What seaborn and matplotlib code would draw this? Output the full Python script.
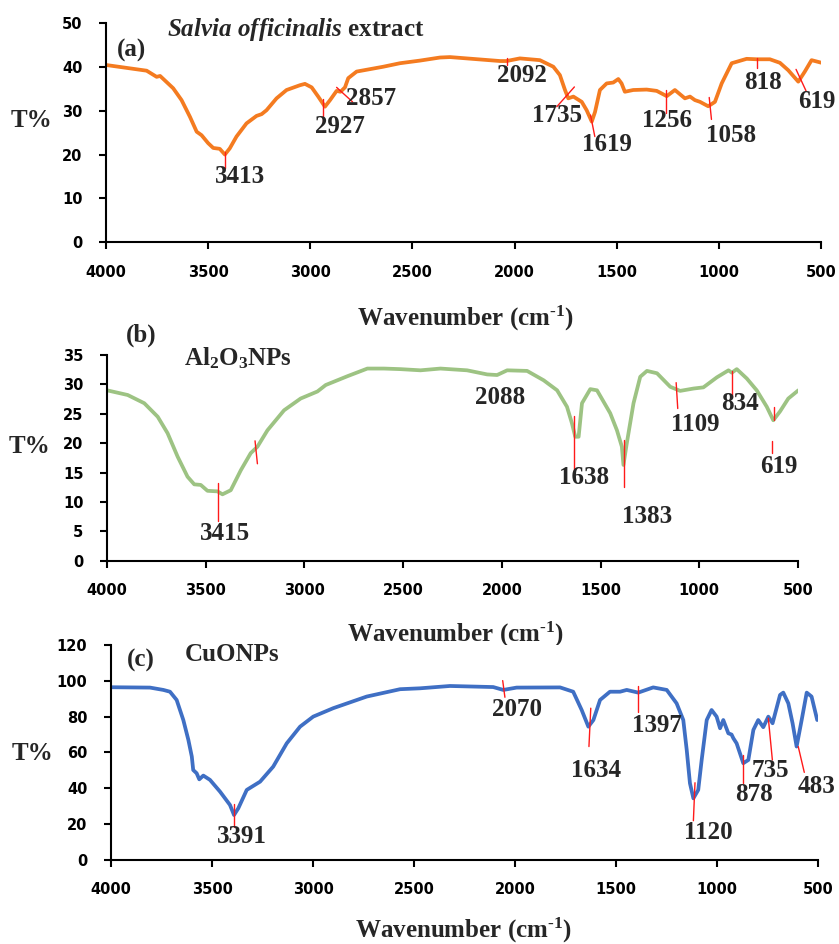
import numpy as np
import pandas as pd
import seaborn as sns
import matplotlib.pyplot as plt

# ---- (a) Salvia officinalis extract ----
a_wn = [4000, 3801, 3752, 3735, 3671, 3630, 3589, 3556, 3532, 3500, 3475, 3443, 3418, 3394, 3361,
        3312, 3263, 3238, 3214, 3165, 3116, 3050, 3026, 2993, 2961, 2928, 2903, 2871, 2852, 2830,
        2814, 2773, 2643, 2561, 2463, 2365, 2316, 2071, 2039, 1974, 1876, 1810, 1778, 1753, 1737,
        1712, 1671, 1647, 1622, 1606, 1582, 1549, 1517, 1492, 1476, 1460, 1419, 1353, 1304, 1255,
        1215, 1166, 1141, 1117, 1092, 1052, 1019, 986, 937, 864, 815, 750, 701, 660, 611,
        579, 546, 497]
a_t = [40.4, 39.1, 37.7, 37.9, 35.1, 32.4, 28.6, 25.2, 24.4, 22.6, 21.5, 21.3, 20.0, 21.4, 24.1,
       27.1, 28.8, 29.2, 30.1, 32.8, 34.7, 35.8, 36.1, 35.3, 33.2, 30.9, 32.4, 34.5, 34.3, 35.3,
       37.4, 38.9, 40.0, 40.8, 41.4, 42.1, 42.2, 41.3, 41.3, 41.9, 41.5, 40.0, 38.1, 34.7, 32.8,
       33.2, 32.0, 30.1, 27.5, 29.7, 34.7, 36.2, 36.4, 37.2, 36.2, 34.3, 34.7, 34.8, 34.5, 33.3,
       34.7, 32.8, 33.2, 32.4, 32.0, 31.0, 32.0, 36.2, 40.8, 41.8, 41.7, 41.7, 40.9, 39.2, 36.6,
       38.9, 41.5, 40.9]
a_labels = ["3413", "2927", "2857", "2092", "1735", "1619", "1256", "1058", "818", "619"]
a_lab_x = [3344, 2855, 2700, 1966, 1791, 1549, 1255, 942, 783, 521]
a_lab_y = [15.1, 26.3, 32.8, 37.9, 29.0, 22.2, 27.7, 24.4, 36.4, 32.0]
a_mk_x0 = [3418, 2937, 2871, 2036, 1707, 1628, 1257, 1047, 812, 622]
a_mk_y0 = [20.6, 32.6, 35.3, 42.1, 35.4, 29.0, 34.8, 33.0, 42.1, 39.4]
a_mk_x1 = [3418, 2937, 2793, 2036, 1793, 1607, 1257, 1036, 812, 573]
a_mk_y1 = [17.0, 27.1, 32.0, 40.5, 30.9, 24.1, 29.5, 28.0, 39.6, 34.5]

# ---- (b) Al2O3 NPs ----
b_wn = [4000, 3895, 3811, 3743, 3693, 3642, 3592, 3558, 3525, 3491, 3440, 3415, 3373, 3322, 3272,
        3238, 3187, 3103, 3019, 2934, 2892, 2782, 2681, 2597, 2513, 2412, 2311, 2176, 2074, 2024,
        1973, 1872, 1788, 1720, 1670, 1645, 1628, 1611, 1594, 1552, 1518, 1451, 1417, 1392, 1384,
        1367, 1333, 1299, 1265, 1214, 1147, 1097, 1029, 979, 911, 852, 835, 810, 759, 709,
        658, 625, 591, 549, 498]
b_t = [29.0, 28.2, 26.8, 24.5, 21.7, 17.7, 14.3, 13.0, 12.9, 11.9, 11.8, 11.3, 12.0, 15.4, 18.3,
       19.4, 22.2, 25.6, 27.6, 28.8, 29.9, 31.4, 32.7, 32.7, 32.6, 32.4, 32.7, 32.4, 31.7, 31.6,
       32.4, 32.3, 30.7, 29.0, 26.2, 23.4, 21.1, 21.1, 26.8, 29.2, 29.0, 25.1, 22.2, 19.4, 16.3,
       20.0, 26.8, 31.3, 32.3, 31.9, 29.6, 28.9, 29.3, 29.5, 31.2, 32.4, 32.0, 32.6, 31.0, 29.0,
       26.2, 23.9, 25.4, 27.6, 29.0]
b_labels = ["3415", "2088", "1638", "1383", "1109", "834", "619"]
b_lab_x = [3403, 2011, 1582, 1265, 1021, 793, 595]
b_lab_y = [4.7, 27.8, 14.2, 7.6, 23.1, 26.8, 16.1]
b_mk_x0 = [3440, 3250, 1633, 1380, 1117, 835, 621, 630]
b_mk_y0 = [13.3, 20.4, 24.6, 20.5, 30.3, 32.2, 26.1, 20.4]
b_mk_x1 = [3440, 3238, 1633, 1380, 1109, 835, 621, 630]
b_mk_y1 = [6.8, 16.5, 15.1, 12.5, 25.9, 27.9, 23.9, 18.4]

# ---- (c) CuO NPs ----
c_wn = [4000, 3807, 3741, 3708, 3675, 3642, 3617, 3600, 3593, 3576, 3563, 3543, 3510, 3460, 3411,
        3391, 3370, 3328, 3262, 3197, 3130, 3064, 2999, 2900, 2734, 2569, 2470, 2322, 2108, 2058,
        1992, 1777, 1712, 1670, 1637, 1612, 1579, 1530, 1480, 1447, 1390, 1316, 1249, 1200, 1167,
        1150, 1134, 1117, 1093, 1076, 1051, 1027, 1002, 985, 969, 944, 928, 919, 903, 870,
        845, 820, 796, 771, 746, 725, 688, 672, 647, 626, 606, 581, 556, 532, 504]
c_t = [96.4, 96.2, 94.9, 93.9, 89.3, 78.1, 67.0, 57.7, 50.2, 48.4, 45.0, 47.1, 44.7, 38.1, 30.7,
       25.1, 28.8, 39.1, 43.7, 52.1, 65.1, 74.4, 80.0, 84.7, 91.2, 95.3, 95.8, 97.1, 96.5, 94.9,
       96.2, 96.3, 93.9, 83.7, 74.4, 78.1, 89.3, 93.9, 93.9, 94.9, 93.4, 96.3, 94.9, 87.4, 78.1,
       61.4, 42.8, 34.4, 39.1, 55.8, 78.1, 83.7, 80.0, 73.5, 78.1, 70.7, 70.0, 67.9, 65.1, 54.0,
       55.8, 72.6, 78.1, 74.1, 80.0, 76.3, 92.1, 93.4, 87.4, 76.3, 63.3, 78.1, 93.4, 91.2, 78.1]
c_labels = ["3391", "2070", "1634", "1397", "1120", "878", "735", "483"]
c_lab_x = [3353, 1992, 1599, 1299, 1043, 817, 738, 507]
c_lab_y = [13.0, 84.1, 50.2, 75.3, 15.2, 36.8, 49.9, 40.9]
c_mk_x0 = [3391, 2061, 1625, 1390, 1109, 870, 746, 598]
c_mk_y0 = [31.1, 100.1, 84.7, 97.1, 43.1, 58.6, 79.1, 63.3]
c_mk_x1 = [3391, 2050, 1634, 1390, 1117, 870, 726, 568]
c_mk_y1 = [18.6, 90.8, 63.3, 82.8, 21.9, 42.8, 55.8, 48.9]

sns.set_theme(style='white')
plt.rcParams['mathtext.fontset'] = 'custom'
plt.rcParams['mathtext.rm'] = 'Liberation Serif:bold'
plt.rcParams['mathtext.bf'] = 'Liberation Serif:bold'
plt.rcParams['mathtext.it'] = 'Liberation Serif:italic:bold'

serif = dict(family='Liberation Serif', weight='bold', size=18)


def panel(fig, rect, wn, t, color, ymax, ystep, labels, lx, ly, mx0, my0, mx1, my1,
          ylab_pos, xlab_pos):
    ax = fig.add_axes(rect)
    df = pd.DataFrame({'wn': wn, 't': t})
    sns.lineplot(data=df, x='wn', y='t', sort=False, estimator=None, color=color, lw=2.7, ax=ax)
    for x0, y0, x1, y1 in zip(mx0, my0, mx1, my1):
        ax.plot([x0, x1], [y0, y1], color='#ff1a1a', lw=1.0)
    for s, x, y in zip(labels, lx, ly):
        ax.text(x, y, s, ha='center', va='center', **serif)
    ax.set_xlim(4000, 500)
    ax.set_ylim(0, ymax)
    ax.set_xticks(np.arange(4000, 499, -500))
    ax.set_yticks(np.arange(0, ymax + 1, ystep))
    for sp in ['top', 'right']:
        ax.spines[sp].set_visible(False)
    for sp in ['left', 'bottom']:
        ax.spines[sp].set_color('black')
        ax.spines[sp].set_linewidth(1.5)
    ax.tick_params(axis='x', direction='out', length=5, width=1.5, color='black', pad=11,
                   labelsize=10.5, bottom=True)
    ax.tick_params(axis='y', direction='out', length=5, width=1.5, color='black', pad=12,
                   labelsize=10.5, left=True)
    for lab in ax.get_xticklabels() + ax.get_yticklabels():
        lab.set_fontweight('bold')
        lab.set_color('black')
    ax.set_ylabel('T%', rotation=0, va='center', ha='center', **serif)
    ax.yaxis.set_label_coords(*ylab_pos)
    ax.set_xlabel(r'Wavenumber (cm$^{\text{-1}}$)', va='center', **serif)
    ax.xaxis.set_label_coords(*xlab_pos)
    return ax


fig = plt.figure(figsize=(8.39, 9.44), dpi=100)

ax1 = panel(fig, [0.1263, 0.7433, 0.8522, 0.2325], a_wn, a_t, '#f47b20', 50, 10,
            a_labels, a_lab_x, a_lab_y, a_mk_x0, a_mk_y0, a_mk_x1, a_mk_y1,
            (-0.1035, 0.557), (0.503, -0.345))
ax1.text(3701, 48.4, r'$\mathit{Salvia\ officinalis}$ extract', ha='left', va='center', **serif)
ax1.text(3873, 43.8, '(a)', ha='center', va='center', **serif)

ax2 = panel(fig, [0.1275, 0.4060, 0.8236, 0.2179], b_wn, b_t, '#9dc383', 35, 5,
            b_labels, b_lab_x, b_lab_y, b_mk_x0, b_mk_y0, b_mk_x1, b_mk_y1,
            (-0.1114, 0.554), (0.504, -0.356))
ax2.text(3825, 38.4, '(b)', ha='center', va='center', **serif)
ax2.text(3339, 34.4, 'Al$_2$O$_3$NPs', ha='center', va='center', **serif)

ax3 = panel(fig, [0.1323, 0.0890, 0.8427, 0.2278], c_wn, c_t, '#3f6fc4', 120, 20,
            c_labels, c_lab_x, c_lab_y, c_mk_x0, c_mk_y0, c_mk_x1, c_mk_y1,
            (-0.1117, 0.493), (0.499, -0.326))
ax3.text(3850, 111.6, '(c)', ha='center', va='center', **serif)
ax3.text(3402, 114.4, 'CuONPs', ha='center', va='center', **serif)

plt.savefig('out.png', dpi=100)
